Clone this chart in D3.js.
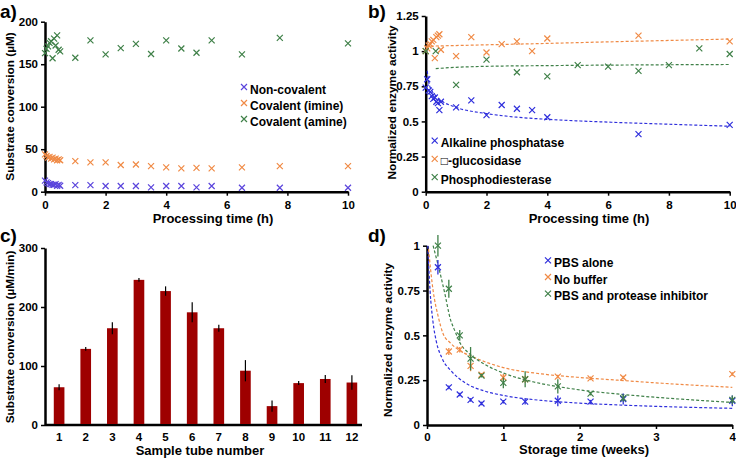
<!DOCTYPE html>
<html>
<head>
<meta charset="utf-8">
<script src="https://cdn.jsdelivr.net/npm/d3@7"></script>
<style>
  body { margin: 0; background: #fff; }
  svg { display: block; font-family: "Liberation Sans", Arial, sans-serif; font-weight: bold; }
</style>
</head>
<body>
<svg width="736" height="458"></svg>
<script>
// ---- panel a: substrate conversion vs processing time
const aTimes = [0, 0.05, 0.1, 0.15, 0.2, 0.25, 0.3, 0.35, 0.4, 0.45, 0.5,
  1, 1.5, 2, 2.5, 3, 3.5, 4, 4.5, 5, 5.5, 6.5, 7.75, 10]
const aNonCovalent = [13, 11, 10, 9, 9, 8, 8, 9, 7, 8, 7,
  7.8, 7.8, 6.7, 6.7, 6.7, 5, 6.7, 6.7, 5, 6.7, 4.7, 4.7, 4.7]
const aImine = [44, 42, 40, 41, 39, 40, 38, 39, 37, 38, 37,
  36, 34.5, 34.5, 31.4, 32, 30, 28.6, 27.5, 28, 27.5, 28.6, 30, 30]
const aAmine = [163, 168, 171, 175, 177, 157, 180, 172, 184, 167, 165,
  157.6, 178, 161.5, 169, 174, 162, 178, 168.5, 163.5, 178, 161.5, 181, 174.5]
const aLabels = ["Non-covalent", "Covalent (imine)", "Covalent (amine)"]

// ---- panel b: normalized activity vs processing time
const bTimes = [0, 0.05, 0.1, 0.15, 0.2, 0.25, 0.3, 0.35, 0.4, 0.45, 0.5,
  1, 1.5, 2, 2.5, 3, 3.5, 4, 7, 10]
const bAlkaline = [0.74, 0.8, 0.72, 0.71, 0.68, 0.66, 0.67, 0.64, 0.63, 0.58, 0.64,
  0.6, 0.65, 0.545, 0.617, 0.59, 0.58, 0.53, 0.41, 0.475]
const bGlucosidase = [1.0, 1.02, 1.04, 1.05, 1.07, 1.08, 0.95, 1.1, 1.11, 1.12, 1.01,
  0.965, 1.1, 0.99, 1.05, 1.07, 1.0, 1.09, 1.11, 1.07]
const bPdeTimes = [0, 0.33, 1, 2, 3, 4, 5, 6, 7, 8, 9, 10]
const bPde = [1.0, 1.0, 0.76, 0.94, 0.85, 0.82, 0.9, 0.89, 0.86, 0.9, 1.02, 0.98]
// trend lines
const bAlkalineFit = [[0.05, 0.86], [0.1, 0.78], [0.2, 0.72], [0.3, 0.69], [0.5, 0.65], [1, 0.6],
  [2, 0.556], [3, 0.53], [4, 0.515], [6, 0.495], [8, 0.48], [10, 0.466]]
const bGlucosidaseFit = [[0, 1.035], [2, 1.045], [4, 1.055], [6, 1.066], [8, 1.076], [10, 1.086]]
const bPdeFit = [[0.33, 0.876], [1, 0.885], [2, 0.892], [4, 0.897], [7, 0.902], [10, 0.905]]
const bLabels = ["Alkaline phosphatase", "\u25A1-glucosidase", "Phosphodiesterase"]

// ---- panel c: bars per sample tube
const cTubes = ["1", "2", "3", "4", "5", "6", "7", "8", "9", "10", "11", "12"]
const cMeans = [64, 129, 164, 246, 227, 191, 164, 92, 32, 71, 78, 72]
const cErrors = [5, 3, 10, 3, 8, 17, 6, 18, 9.6, 3.4, 6.8, 12.4]

// ---- panel d: normalized activity vs storage time
const dTimes = [0.143, 0.286, 0.429, 0.571, 0.714, 1, 1.286, 1.714, 2.143, 2.571, 4]
const dPbs = [0.88, 0.21, 0.17, 0.14, 0.12, 0.13, 0.13, 0.135, 0.13, 0.145, 0.135]
const dPbsErr = [0.04, 0.01, 0.01, 0.01, 0.01, 0.01, 0.015, 0.03, 0.01, 0.03, 0.03]
const dNoBuffer = [null, 0.41, 0.42, 0.33, 0.28, 0.265, 0.255, 0.27, 0.26, 0.265, 0.284]
const dNoBufferErr = [null, 0.02, 0.015, 0.03, 0.01, 0.02, 0.02, 0.01, 0.01, 0.01, 0.01]
const dInhib = [1.0, 0.76, 0.5, 0.37, 0.275, 0.235, 0.255, 0.215, 0.175, 0.15, 0.14]
const dInhibErr = [0.06, 0.05, 0.03, 0.065, 0.01, 0.03, 0.045, 0.04, 0.01, 0.02, 0.025]
const dPbsFit = [[0.01, 1.0], [0.04, 0.75], [0.08, 0.57], [0.12, 0.47], [0.2, 0.37], [0.32, 0.3],
  [0.5, 0.235], [0.75, 0.19], [1, 0.165], [1.5, 0.137], [2, 0.122], [2.5, 0.112], [3, 0.104], [3.5, 0.098], [4, 0.093]]
const dNoBufferFit = [[0.02, 0.98], [0.08, 0.75], [0.15, 0.6], [0.21, 0.51], [0.3, 0.46], [0.45, 0.41],
  [0.6, 0.38], [1, 0.32], [1.5, 0.285], [2, 0.265], [2.5, 0.25], [3, 0.235], [3.5, 0.222], [4, 0.21]]
const dInhibFit = [[0.08, 1.0], [0.17, 0.85], [0.24, 0.72], [0.3, 0.6], [0.37, 0.52], [0.43, 0.46],
  [0.55, 0.4], [0.75, 0.34], [1, 0.29], [1.4, 0.24], [1.85, 0.205], [2.7, 0.165], [3.3, 0.145], [4, 0.126]]
const dLabels = ["PBS alone", "No buffer", "PBS and protease inhibitor"]

const BLUE_A = "#5a44dc", BLUE = "#2f2fdc", ORANGE = "#f08a45", GREEN = "#3f8048", BAR = "#9e0000"

const svg = d3.select("svg")

function cross(g, x, y, color, s) {
  s = s || 3
  g.append("path")
    .attr("d", `M${x - s},${y - s}L${x + s},${y + s}M${x - s},${y + s}L${x + s},${y - s}`)
    .attr("stroke", color).attr("stroke-width", 1.2).attr("fill", "none")
}

function styleAxis(g) {
  g.select(".domain").attr("stroke", "#000").attr("stroke-width", 2.5)
  g.selectAll(".tick line").attr("stroke", "#000").attr("stroke-width", 1.5)
  g.selectAll(".tick text").style("font-size", "11.5px").style("font-weight", "bold").attr("fill", "#000")
  g.attr("font-family", null)
}

function panelLabel(txt, x, y) {
  svg.append("text").attr("x", x).attr("y", y).text(txt).style("font-size", "19px")
}
function xTitle(txt, x, y) {
  svg.append("text").attr("x", x).attr("y", y).attr("text-anchor", "middle").text(txt).style("font-size", "13px")
}
function yTitle(txt, x, y) {
  svg.append("text").attr("transform", `translate(${x},${y}) rotate(-90)`)
    .attr("text-anchor", "middle").text(txt).style("font-size", "11.8px")
}

function legend(items, x, y0, dy) {
  items.forEach((it, i) => {
    let y = y0 + i * dy
    cross(svg, x, y - 2, it.color, 3)
    svg.append("text").attr("x", x + 6).attr("y", y + 4.5).text(it.label).style("font-size", "12px")
  })
}

// generic scatter panel
function scatterPanel(cfg) {
  let x = d3.scaleLinear().domain(cfg.xDomain).range([cfg.left, cfg.right])
  let y = d3.scaleLinear().domain(cfg.yDomain).range([cfg.bottom, cfg.top])

  svg.append("g").attr("transform", "translate(0," + cfg.bottom + ")")
    .call(d3.axisBottom(x).tickValues(cfg.xTicks).tickSize(4).tickSizeOuter(0).tickPadding(cfg.xPad).tickFormat(d => d))
    .call(styleAxis)
  svg.append("g").attr("transform", "translate(" + cfg.left + ",0)")
    .call(d3.axisLeft(y).tickValues(cfg.yTicks).tickSize(4).tickSizeOuter(0).tickPadding(3).tickFormat(d => d))
    .call(styleAxis)

  let line = d3.line().x(d => x(d[0])).y(d => y(d[1])).curve(d3.curveMonotoneX)
  ;(cfg.fits || []).forEach(f => {
    svg.append("path").attr("d", line(f.points)).attr("fill", "none")
      .attr("stroke", f.color).attr("stroke-width", 1.2).attr("stroke-dasharray", "3,2")
  })

  let g = svg.append("g")
  cfg.series.forEach(s => {
    s.values.forEach((v, i) => {
      if (v == null) return
      let px = x(s.times[i]), py = y(v)
      if (s.errors) {
        g.append("line").attr("x1", px).attr("x2", px)
          .attr("y1", y(v - s.errors[i])).attr("y2", y(v + s.errors[i]))
          .attr("stroke", s.color).attr("stroke-width", 1.3)
      }
      cross(g, px, py, s.color, 3)
    })
  })
}

// ---------- panel a
scatterPanel({
  left: 45, right: 348, top: 21.7, bottom: 191.7,
  xDomain: [0, 10], yDomain: [0, 200],
  xTicks: [0, 2, 4, 6, 8, 10], yTicks: [0, 50, 100, 150, 200], xPad: 5,
  series: [
    { times: aTimes, values: aNonCovalent, color: BLUE_A },
    { times: aTimes, values: aImine, color: ORANGE },
    { times: aTimes, values: aAmine, color: GREEN }
  ]
})
legend([{ label: aLabels[0], color: BLUE_A }, { label: aLabels[1], color: ORANGE }, { label: aLabels[2], color: GREEN }], 244, 89, 16)
panelLabel("a)", 0, 18)
xTitle("Processing time (h)", 213, 223)
yTitle("Substrate conversion (\u00B5M)", 14, 106.5)

// ---------- panel b
scatterPanel({
  left: 425.7, right: 729.7, top: 16, bottom: 191.7,
  xDomain: [0, 10], yDomain: [0, 1.25],
  xTicks: [0, 2, 4, 6, 8, 10], yTicks: [0, 0.25, 0.5, 0.75, 1, 1.25], xPad: 5,
  fits: [
    { points: bGlucosidaseFit, color: ORANGE },
    { points: bPdeFit, color: GREEN },
    { points: bAlkalineFit, color: BLUE }
  ],
  series: [
    { times: bTimes, values: bGlucosidase, color: ORANGE },
    { times: bPdeTimes, values: bPde, color: GREEN },
    { times: bTimes, values: bAlkaline, color: BLUE }
  ]
})
legend([{ label: bLabels[0], color: BLUE }, { label: bLabels[1], color: ORANGE }, { label: bLabels[2], color: GREEN }], 434.7, 142.7, 18.2)
panelLabel("b)", 368, 18)
xTitle("Processing time (h)", 589, 223)
yTitle("Normalized enzyme activity", 396, 102.5)

// ---------- panel c
{
  let left = 45, bottom = 425, top = 248
  let x = d3.scaleBand().domain(cTubes).range([left, 366]).paddingInner(0.6).paddingOuter(0.33)
  let y = d3.scaleLinear().domain([0, 300]).range([bottom, top])
  let xg = svg.append("g").attr("transform", "translate(0," + bottom + ")")
    .call(d3.axisBottom(x).tickSize(0).tickPadding(8))
    .call(styleAxis)
  xg.select(".domain").attr("d", `M${left},0H362`)
  svg.append("g").attr("transform", "translate(" + left + ",0)")
    .call(d3.axisLeft(y).tickValues([0, 100, 200, 300]).tickSize(4).tickSizeOuter(0).tickPadding(3))
    .call(styleAxis)
  let bars = svg.append("g")
  cTubes.forEach((t, i) => {
    bars.append("rect").attr("x", x(t)).attr("width", x.bandwidth())
      .attr("y", y(cMeans[i])).attr("height", y(0) - y(cMeans[i]) - 1).attr("fill", BAR)
    let cx = x(t) + x.bandwidth() / 2
    bars.append("line").attr("x1", cx).attr("x2", cx)
      .attr("y1", y(cMeans[i] - cErrors[i])).attr("y2", y(cMeans[i] + cErrors[i]))
      .attr("stroke", "#000").attr("stroke-width", 1.2)
  })
  panelLabel("c)", 0, 242)
  xTitle("Sample tube number", 200, 455)
  yTitle("Substrate conversion (\u00B5M/min)", 14, 337)
}

// ---------- panel d
scatterPanel({
  left: 427, right: 732.3, top: 245.7, bottom: 425,
  xDomain: [0, 4], yDomain: [0, 1],
  xTicks: [0, 1, 2, 3, 4], yTicks: [0, 0.25, 0.5, 0.75, 1], xPad: 4,
  fits: [
    { points: dPbsFit, color: BLUE },
    { points: dNoBufferFit, color: ORANGE },
    { points: dInhibFit, color: GREEN }
  ],
  series: [
    { times: dTimes, values: dPbs, errors: dPbsErr, color: BLUE },
    { times: dTimes, values: dNoBuffer, errors: dNoBufferErr, color: ORANGE },
    { times: dTimes, values: dInhib, errors: dInhibErr, color: GREEN }
  ]
})
legend([{ label: dLabels[0], color: BLUE }, { label: dLabels[1], color: ORANGE }, { label: dLabels[2], color: GREEN }], 548, 262.3, 16.7)
panelLabel("d)", 368, 242)
xTitle("Storage time (weeks)", 584, 454)
yTitle("Normalized enzyme activity", 392, 340)
</script>
</body>
</html>
